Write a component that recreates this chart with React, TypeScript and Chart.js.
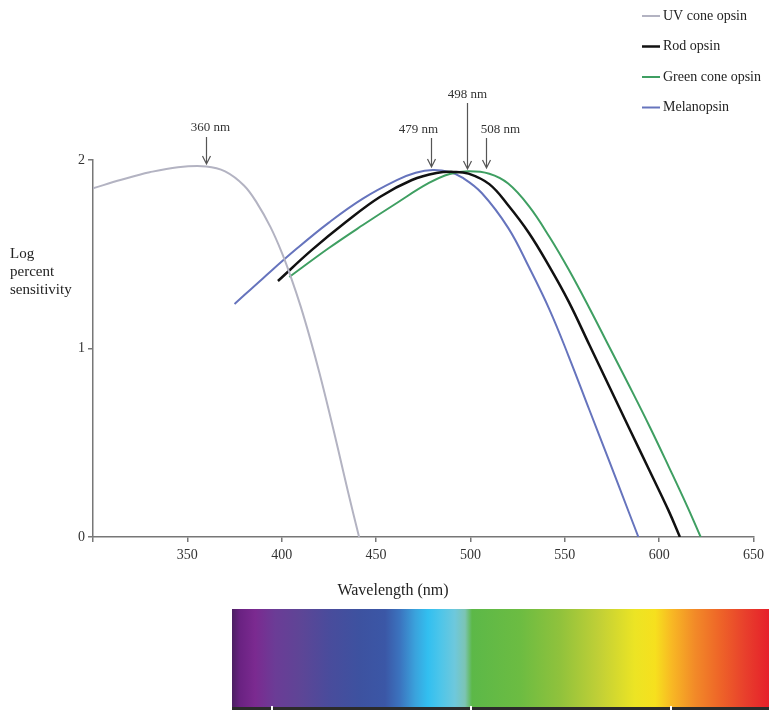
import { useEffect, useRef } from 'react';
import { Chart, registerables } from 'chart.js';

Chart.register(...registerables);

// Wavelength (nm) and log percent sensitivity for each pigment
const uvNm = [300, 315, 330, 345, 360, 370, 380, 387, 394, 400, 405, 410, 415, 420, 425, 430, 435, 441];
const uvLog = [1.85, 1.895, 1.935, 1.962, 1.966, 1.94, 1.865, 1.77, 1.645, 1.51, 1.375, 1.225, 1.055, 0.87, 0.67, 0.46, 0.245, 0];

const rodNm = [398, 416, 434, 452, 469, 482, 491, 499, 510, 520, 531, 542, 552, 563, 573, 584, 595, 605, 611];
const rodLog = [1.358, 1.523, 1.671, 1.804, 1.894, 1.931, 1.937, 1.928, 1.872, 1.76, 1.613, 1.432, 1.25, 1.02, 0.81, 0.58, 0.35, 0.14, 0];

const greenNm = [404, 425, 443, 461, 478, 489, 499, 510, 520, 531, 542, 552, 563, 573, 584, 595, 605, 615, 622];
const greenLog = [1.379, 1.533, 1.655, 1.772, 1.878, 1.926, 1.94, 1.927, 1.875, 1.755, 1.59, 1.42, 1.215, 1.02, 0.805, 0.585, 0.375, 0.16, 0];

const melNm = [375, 390, 408, 425, 443, 461, 471, 480, 489, 496, 506, 520, 531, 542, 552, 563, 573, 584, 589];
const melLog = [1.236, 1.372, 1.53, 1.668, 1.795, 1.893, 1.932, 1.947, 1.936, 1.905, 1.825, 1.64, 1.432, 1.204, 0.96, 0.675, 0.417, 0.13, 0];

const seriesNames = ['UV cone opsin', 'Rod opsin', 'Green cone opsin', 'Melanopsin'];

// Peak wavelengths called out with arrows
const peakNm = [360, 479, 498, 508];

const xTickValues = [350, 400, 450, 500, 550, 600, 650];
const yTickValues = [0, 1, 2];

const SERIF = '"Liberation Serif", "DejaVu Serif", serif';

const toPoints = (xs: number[], ys: number[]) => xs.map((x, i) => ({ x, y: ys[i] }));

// Label offset / arrow geometry for each callout, in pixels relative to the plot top
const calloutLayout = [
  { dx: 4, labelY: -32, top: -23, tip: 4 },
  { dx: -13, labelY: -30, top: -22, tip: 7 },
  { dx: 0, labelY: -65, top: -57, tip: 9 },
  { dx: 14, labelY: -30, top: -22, tip: 8 },
];

const spectrumStops: [number, string][] = [
  [0, '#4b1f62'], [0.015, '#6a2282'], [0.043, '#7b2a90'], [0.08, '#6b3c96'],
  [0.127, '#5e4596'], [0.182, '#494c9c'], [0.238, '#3d52a0'], [0.285, '#3b57a6'],
  [0.313, '#3b74bf'], [0.341, '#3aa2dc'], [0.365, '#32bff0'], [0.387, '#4cc5ea'],
  [0.415, '#6ec8dc'], [0.434, '#7cc4b4'], [0.447, '#5cb848'], [0.536, '#6cbc42'],
  [0.611, '#90c23c'], [0.685, '#c2d036'], [0.75, '#ece424'], [0.788, '#f6e01e'],
  [0.819, '#f8b824'], [0.862, '#f28a28'], [0.909, '#ee6428'], [0.955, '#e8402c'],
  [1, '#e6202a'],
];

const overlayPlugin = {
  id: 'overlay',
  afterDraw(chart: any) {
    const { ctx } = chart;
    const xs = chart.scales.x;
    const ys = chart.scales.y;
    const top = ys.top;
    ctx.save();

    // callout arrows for peak wavelengths
    ctx.font = `13px ${SERIF}`;
    ctx.fillStyle = '#333';
    ctx.textAlign = 'center';
    ctx.textBaseline = 'middle';
    ctx.strokeStyle = '#555';
    ctx.lineWidth = 1.2;
    peakNm.forEach((nm, i) => {
      const l = calloutLayout[i];
      const ax = Math.round(xs.getPixelForValue(nm)) + 0.5;
      ctx.fillText(`${nm} nm`, ax + l.dx, top + l.labelY);
      const tip = top + l.tip;
      ctx.beginPath();
      ctx.moveTo(ax, top + l.top);
      ctx.lineTo(ax, tip);
      ctx.moveTo(ax - 4, tip - 8);
      ctx.lineTo(ax, tip);
      ctx.lineTo(ax + 4, tip - 8);
      ctx.stroke();
    });

    // legend
    ctx.textAlign = 'left';
    ctx.font = `14px ${SERIF}`;
    chart.data.datasets.forEach((ds: any, i: number) => {
      const ly = 16 + i * 30.5;
      ctx.strokeStyle = ds.borderColor;
      ctx.lineWidth = ds.borderWidth;
      ctx.beginPath();
      ctx.moveTo(642, ly);
      ctx.lineTo(660, ly);
      ctx.stroke();
      ctx.fillStyle = '#222';
      ctx.fillText(ds.label, 663, ly);
    });

    // axis titles
    ctx.fillStyle = '#222';
    ctx.font = `15px ${SERIF}`;
    ['Log', 'percent', 'sensitivity'].forEach((t, i) => ctx.fillText(t, 10, 254 + i * 18));
    ctx.textAlign = 'center';
    ctx.font = `16px ${SERIF}`;
    ctx.fillText('Wavelength (nm)', 393, 591);

    // visible spectrum strip
    const sx = 232, sy = 609, sw = 537, sh = 100;
    const g = ctx.createLinearGradient(sx, 0, sx + sw, 0);
    spectrumStops.forEach(([p, c]) => g.addColorStop(p, c));
    ctx.fillStyle = g;
    ctx.fillRect(sx, sy, sw, sh);
    ctx.fillStyle = '#2b2b2b';
    ctx.fillRect(sx, sy + sh - 2, sw, 3);
    ctx.fillStyle = '#ffffff';
    [271, 470, 670].forEach((tx) => ctx.fillRect(tx, sy + sh - 3, 2, 4));

    ctx.restore();
  },
};

export default function App() {
  const ref = useRef<HTMLCanvasElement | null>(null);

  useEffect(() => {
    if (!ref.current) return;
    const line = (label: string, pts: any[], color: string, width: number) => ({
      label,
      data: pts,
      borderColor: color,
      backgroundColor: color,
      borderWidth: width,
      pointRadius: 0,
      fill: false,
      tension: 0.4,
    });
    const chart = new Chart(ref.current, {
      type: 'line',
      data: {
        datasets: [
          line(seriesNames[0], toPoints(uvNm, uvLog), '#b3b3c2', 2),
          line(seriesNames[1], toPoints(rodNm, rodLog), '#111111', 2.5),
          line(seriesNames[2], toPoints(greenNm, greenLog), '#3f9f62', 2),
          line(seriesNames[3], toPoints(melNm, melLog), '#6674bd', 2),
        ],
      },
      options: {
        responsive: false,
        maintainAspectRatio: false,
        animation: false,
        layout: { padding: { top: 160, right: 14, left: 0, bottom: 0 } },
        plugins: {
          legend: { display: false },
          tooltip: { enabled: false },
        },
        scales: {
          x: {
            type: 'linear',
            min: 300,
            max: 650,
            afterFit: (s: any) => { s.height = 176; },
            afterBuildTicks: (s: any) => {
              s.ticks = [300, ...xTickValues].map((v) => ({ value: v }));
            },
            ticks: {
              color: '#333',
              font: { family: SERIF, size: 14 },
              padding: 5,
              maxRotation: 0,
              callback: (v: any) => (xTickValues.includes(Number(v)) ? String(v) : ''),
            },
            grid: { drawOnChartArea: false, drawTicks: true, tickLength: 5, color: '#777', lineWidth: 1.5 },
            border: { color: '#777', width: 1.5 },
          },
          y: {
            type: 'linear',
            min: 0,
            max: 2,
            afterFit: (s: any) => { s.width = 93; },
            afterBuildTicks: (s: any) => {
              s.ticks = yTickValues.map((v) => ({ value: v }));
            },
            ticks: {
              color: '#333',
              font: { family: SERIF, size: 14 },
              padding: 3,
            },
            grid: { drawOnChartArea: false, drawTicks: true, tickLength: 5, color: '#777', lineWidth: 1.5 },
            border: { color: '#777', width: 1.5 },
          },
        },
      },
      plugins: [overlayPlugin],
    });
    return () => chart.destroy();
  }, []);

  return (
    <div style={{ position: 'absolute', left: 0, top: 0, width: 769, height: 713, background: '#fff' }}>
      <canvas ref={ref} width={769} height={713} style={{ display: 'block' }} />
    </div>
  );
}
